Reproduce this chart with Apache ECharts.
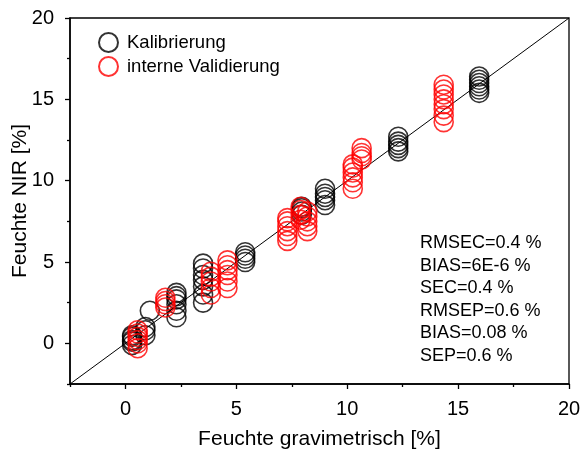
<!DOCTYPE html>
<html>
<head>
<meta charset="utf-8">
<script src="https://cdn.jsdelivr.net/npm/echarts@6/dist/echarts.min.js"></script>
<style>
html,body{margin:0;padding:0;background:#fff;}
#chart{width:581px;height:452px;}
</style>
</head>
<body>
<div id="chart"></div>
<script>
// ---- data ----
var xMajorTicks = [0, 5, 10, 15, 20];
var xMinorTicks = [-2.5, 2.5, 7.5, 12.5, 17.5];
var yMajorTicks = [0, 5, 10, 15, 20];
var yMinorTicks = [-2.5, 2.5, 7.5, 12.5, 17.5];

var kalibX = [0.3, 0.3, 0.3, 0.3, 0.3, 0.9, 0.9, 0.9, 1.1,
  2.3, 2.3, 2.3, 2.3, 2.3, 2.3,
  3.5, 3.5, 3.5, 3.5, 3.5, 3.5, 3.5,
  5.4, 5.4, 5.4, 5.4,
  7.95, 7.95, 7.95, 7.95,
  9.0, 9.0, 9.0, 9.0, 9.0,
  12.3, 12.3, 12.3, 12.3, 12.3,
  15.95, 15.95, 15.95, 15.95, 15.95, 15.95];
var kalibY = [-0.1, 0.1, 0.2, 0.4, 0.5, 0.5, 0.8, 1.0, 2.0,
  1.6, 2.0, 2.4, 2.7, 2.9, 3.1,
  2.5, 3.0, 3.5, 3.9, 4.2, 4.6, 4.9,
  5.0, 5.2, 5.4, 5.6,
  7.9, 8.1, 8.3, 8.4,
  8.5, 8.8, 9.0, 9.2, 9.5,
  11.8, 12.0, 12.2, 12.4, 12.7,
  15.4, 15.6, 15.8, 16.0, 16.2, 16.4];

var validX = [0.55, 0.55, 0.55, 0.55, 0.55, 0.55,
  1.8, 1.8, 1.8, 1.8,
  3.85, 3.85, 3.85, 3.85, 3.85,
  4.6, 4.6, 4.6, 4.6, 4.6, 4.6,
  7.3, 7.3, 7.3, 7.3, 7.3, 7.3,
  7.9, 7.9, 7.9, 7.9,
  8.2, 8.2, 8.2, 8.2, 8.2,
  10.25, 10.25, 10.25, 10.25, 10.25, 10.25,
  10.65, 10.65, 10.65, 10.65,
  14.35, 14.35, 14.35, 14.35, 14.35, 14.35, 14.35, 14.35];
var validY = [-0.3, 0.0, 0.2, 0.4, 0.6, 0.8,
  2.2, 2.4, 2.6, 2.8,
  3.0, 3.4, 3.8, 4.1, 4.4,
  3.4, 3.8, 4.2, 4.5, 4.8, 5.1,
  6.3, 6.6, 6.9, 7.2, 7.5, 7.7,
  7.6, 7.9, 8.2, 8.4,
  6.9, 7.2, 7.5, 7.8, 8.1,
  9.5, 9.9, 10.2, 10.5, 10.8, 11.0,
  11.3, 11.5, 11.7, 12.0,
  13.6, 14.0, 14.4, 14.7, 15.0, 15.3, 15.6, 15.9];

var diagX = [-2.5, 20];
var diagY = [-2.5, 20];

var statsLines = ['RMSEC=0.4 %', 'BIAS=6E-6 %', 'SEC=0.4 %', 'RMSEP=0.6 %', 'BIAS=0.08 %', 'SEP=0.6 %'];
var seriesNames = ['Kalibrierung', 'interne Validierung'];
var xTitle = 'Feuchte gravimetrisch [%]';
var yTitle = 'Feuchte NIR [%]';

function zip(a, b) { return a.map(function (v, i) { return [v, b[i]]; }); }

var FONT = '"Liberation Sans", Arial, sans-serif';

var chart = echarts.init(document.getElementById('chart'), null, { renderer: 'canvas' });
var axisCommon = { min: -2.5, max: 20, splitLine: { show: false } };

chart.setOption({
  animation: false,
  backgroundColor: '#fff',
  grid: { left: 70, top: 18, right: 12, bottom: 68, containLabel: false, outerBoundsMode: 'none',
    show: true, borderColor: '#000', borderWidth: 1.3, backgroundColor: 'transparent' },
  xAxis: [
    Object.assign({}, axisCommon, {
      type: 'value', position: 'bottom',
      name: xTitle, nameLocation: 'middle', nameGap: 45,
      nameTextStyle: { fontFamily: FONT, fontSize: 21, color: '#000' },
      axisLine: { show: true, onZero: false, lineStyle: { color: '#000', width: 1.5 } },
      axisTick: { show: true, length: 5, inside: false, customValues: xMajorTicks, lineStyle: { color: '#000', width: 1.3 } },
      axisLabel: { show: true, customValues: xMajorTicks, margin: 15, fontFamily: FONT, fontSize: 20, color: '#000' }
    }),
    Object.assign({}, axisCommon, {
      type: 'value', position: 'bottom',
      axisLine: { show: false, onZero: false },
      axisTick: { show: true, length: 3, customValues: xMinorTicks, lineStyle: { color: '#000', width: 1.3 } },
      axisLabel: { show: false }
    })
  ],
  yAxis: [
    Object.assign({}, axisCommon, {
      type: 'value', position: 'left',
      name: yTitle, nameLocation: 'middle', nameGap: 39, nameRotate: 90, nameMoveOverlap: false,
      nameTextStyle: { fontFamily: FONT, fontSize: 21, color: '#000' },
      axisLine: { show: true, onZero: false, lineStyle: { color: '#000', width: 1.5 } },
      axisTick: { show: true, length: 5, customValues: yMajorTicks, lineStyle: { color: '#000', width: 1.3 } },
      axisLabel: { show: true, customValues: yMajorTicks, margin: 16, fontFamily: FONT, fontSize: 20, color: '#000' }
    }),
    Object.assign({}, axisCommon, {
      type: 'value', position: 'left',
      axisLine: { show: false, onZero: false },
      axisTick: { show: true, length: 3, customValues: yMinorTicks, lineStyle: { color: '#000', width: 1.3 } },
      axisLabel: { show: false }
    })
  ],
  legend: {
    orient: 'vertical', left: 98, top: 32, itemGap: 3,
    itemWidth: 19, itemHeight: 19, padding: 0,
    icon: 'circle',
    textStyle: { fontFamily: FONT, fontSize: 18.5, color: '#000', padding: [0, 0, 0, 4] },
    data: seriesNames
  },
  graphic: [{
    type: 'text', left: 420, top: 232,
    style: { text: statsLines.join('\n'), fontFamily: FONT, fontSize: 18, lineHeight: 22.5, fill: '#000' }
  }],
  series: [
    {
      type: 'line', name: 'diag', data: zip(diagX, diagY), xAxisIndex: 0, yAxisIndex: 0,
      symbol: 'none', lineStyle: { color: '#000', width: 1 }, z: 1, silent: true
    },
    {
      type: 'scatter', name: seriesNames[0], data: zip(kalibX, kalibY), xAxisIndex: 0, yAxisIndex: 0,
      symbol: 'circle', symbolSize: 19,
      itemStyle: { color: 'rgba(255,255,255,0)', borderColor: '#000', borderWidth: 1.6 }, z: 2
    },
    {
      type: 'scatter', name: seriesNames[1], data: zip(validX, validY), xAxisIndex: 0, yAxisIndex: 0,
      symbol: 'circle', symbolSize: 19,
      itemStyle: { color: 'rgba(255,255,255,0)', borderColor: '#ff0000', borderWidth: 1.6 }, z: 3
    }
  ]
});
</script>
</body>
</html>
